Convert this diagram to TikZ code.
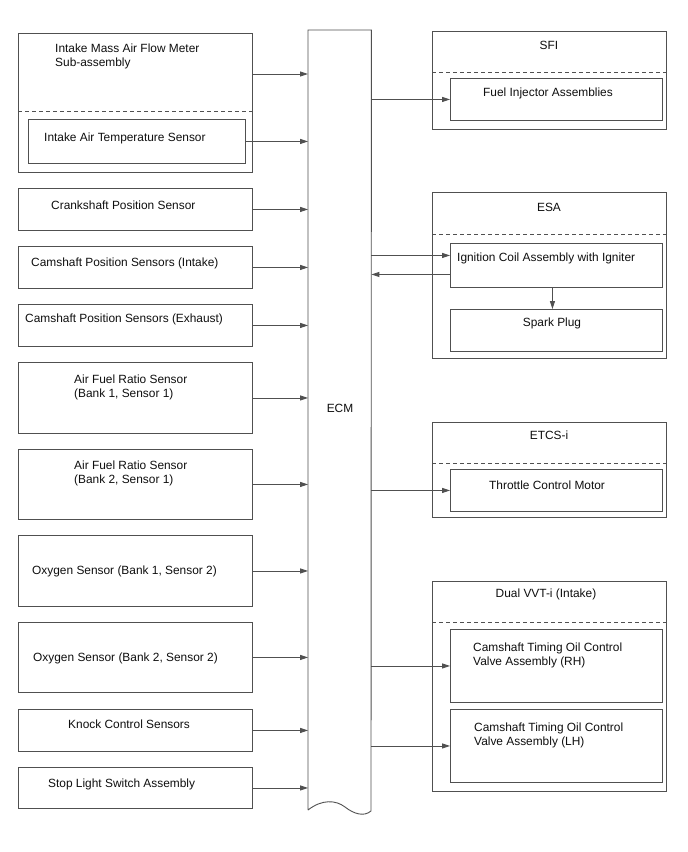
\documentclass[tikz,border=0pt]{standalone}
\usepackage{fontspec}
\setmainfont{Liberation Sans}
\usetikzlibrary{arrows.meta,positioning,calc}
\definecolor{edge}{RGB}{80,80,80}
\definecolor{labeltext}{RGB}{15,15,15}

\tikzset{
  blk/.style={draw=edge, line width=0.9pt, inner sep=0pt, anchor=north west},
  lbl/.style={anchor=base west, inner sep=0pt, align=left, text=labeltext,
    font=\fontsize{11.9pt}{14pt}\selectfont},
  ttl/.style={lbl, anchor=base},
  sig/.style={draw=edge, line width=0.9pt, -{Triangle[length=8pt,width=5pt]}},
  sep/.style={draw=edge, line width=0.9pt, dash pattern=on 4pt off 3pt},
}

\begin{document}
\begin{tikzpicture}[x=1pt,y=-1pt]
  \useasboundingbox[fill=white] (0,0) rectangle (688,852);

  % ECM
  \node[inner sep=0pt, minimum width=63pt, minimum height=781pt, anchor=north west] (ecm) at (308,30) {};
  \draw[edge, line width=0.9pt] (308,810) -- (ecm.north west) -- (ecm.north east) -- (371,811)
    .. controls (364,817) and (354,814) .. (345,807)
    .. controls (336,800) and (322,799) .. (308,810);
  \node[ttl] (ecmT) at (340,412) {ECM};

  % Intake Mass Air Flow Meter (two-line labels sit on their last baseline)
  \node[blk, minimum width=234pt, minimum height=139pt] (maf) at (18,33) {};
  \draw[sep] (maf.west |- 0,111) -- (maf.east |- 0,111);
  \node[lbl] (mafT) at (55,66) {Intake Mass Air Flow Meter\\Sub-assembly};
  \node[blk, minimum width=217pt, minimum height=44pt] (iat) at (28,119) {};
  \node[lbl] (iatT) at (44,141) {Intake Air Temperature Sensor};

  % Crankshaft and camshaft sensors
  \node[blk, minimum width=234pt, minimum height=42pt] (crank) at (18,188) {};
  \node[lbl] (crankT) at (51,209) {Crankshaft Position Sensor};
  \node[blk, minimum width=234pt, minimum height=42pt] (camin) at (18,246) {};
  \node[lbl] (caminT) at (31,266) {Camshaft Position Sensors (Intake)};
  \node[blk, minimum width=234pt, minimum height=42pt] (camex) at (18,304) {};
  \node[lbl] (camexT) at (25,322) {Camshaft Position Sensors (Exhaust)};

  % Air fuel ratio sensors
  \node[blk, minimum width=234pt, minimum height=71pt] (afr1) at (18,362) {};
  \node[lbl] (afr1T) at (74,397) {Air Fuel Ratio Sensor\\(Bank 1, Sensor 1)};
  \node[blk, minimum width=234pt, minimum height=70pt] (afr2) at (18,449) {};
  \node[lbl] (afr2T) at (74,483) {Air Fuel Ratio Sensor\\(Bank 2, Sensor 1)};

  % Oxygen sensors
  \node[blk, minimum width=234pt, minimum height=71pt] (oxy1) at (18,535) {};
  \node[lbl] (oxy1T) at (32,574) {Oxygen Sensor (Bank 1, Sensor 2)};
  \node[blk, minimum width=234pt, minimum height=70pt] (oxy2) at (18,622) {};
  \node[lbl] (oxy2T) at (33,661) {Oxygen Sensor (Bank 2, Sensor 2)};

  % Knock and stop light
  \node[blk, minimum width=234pt, minimum height=42pt] (knock) at (18,709) {};
  \node[lbl] (knockT) at (68,728) {Knock Control Sensors};
  \node[blk, minimum width=234pt, minimum height=41pt] (stop) at (18,767) {};
  \node[lbl] (stopT) at (48,787) {Stop Light Switch Assembly};

  % Inputs to ECM
  \coordinate (mafout) at ([yshift=-41pt]maf.north east);
  \draw[sig] (mafout) -- (mafout -| ecm.west);
  \foreach \src in {iat,crank,camin,camex,afr1,afr2,oxy1,oxy2,knock,stop}
    \draw[sig] (\src.east) -- (\src.east -| ecm.west);

  % SFI
  \node[blk, minimum width=234pt, minimum height=98pt] (sfi) at (432,31) {};
  \draw[sep] (sfi.west |- 0,72) -- (sfi.east |- 0,72);
  \node[ttl] (sfiT) at (549,49) {SFI};
  \node[blk, minimum width=212pt, minimum height=42pt] (fuel) at (450,78) {};
  \node[lbl] (fuelT) at (483,96) {Fuel Injector Assemblies};

  % ESA
  \node[blk, minimum width=234pt, minimum height=166pt] (esa) at (432,192) {};
  \draw[sep] (esa.west |- 0,234) -- (esa.east |- 0,234);
  \node[ttl] (esaT) at (549,211) {ESA};
  \node[blk, minimum width=212pt, minimum height=44pt] (ign) at (450,243) {};
  \node[lbl] (ignT) at (457,261) {Ignition Coil Assembly with Igniter};
  \node[blk, minimum width=212pt, minimum height=42pt] (spark) at (450,309) {};
  \node[ttl] (sparkT) at (552,326) {Spark Plug};

  % ETCS-i
  \node[blk, minimum width=234pt, minimum height=95pt] (etcs) at (432,422) {};
  \draw[sep] (etcs.west |- 0,463) -- (etcs.east |- 0,463);
  \node[ttl] (etcsT) at (549,439) {ETCS-i};
  \node[blk, minimum width=212pt, minimum height=42pt] (thr) at (450,469) {};
  \node[lbl] (thrT) at (489,489) {Throttle Control Motor};

  % Dual VVT-i
  \node[blk, minimum width=234pt, minimum height=210pt] (vvt) at (432,581) {};
  \draw[sep] (vvt.west |- 0,622) -- (vvt.east |- 0,622);
  \node[ttl] (vvtT) at (546,597) {Dual VVT-i (Intake)};
  \node[blk, minimum width=212pt, minimum height=73pt] (ocvr) at (450,629) {};
  \node[lbl] (ocvrT) at (473,665) {Camshaft Timing Oil Control\\Valve Assembly (RH)};
  \node[blk, minimum width=212pt, minimum height=73pt] (ocvl) at (450,709) {};
  \node[lbl] (ocvlT) at (474,745) {Camshaft Timing Oil Control\\Valve Assembly (LH)};

  % Outputs from ECM
  \foreach \dst in {fuel,thr,ocvr,ocvl}
    \draw[sig] (\dst.west -| ecm.east) -- (\dst.west);
  \coordinate (ignin) at ([yshift=10pt]ign.west);
  \coordinate (ignout) at ([yshift=-9pt]ign.west);
  \draw[sig] (ignin -| ecm.east) -- (ignin);
  \draw[sig] (ignout) -- (ignout -| ecm.east);
  \draw[sig] ([xshift=-4pt]ign.south) -- ([xshift=-4pt]spark.north);
\end{tikzpicture}
\end{document}
